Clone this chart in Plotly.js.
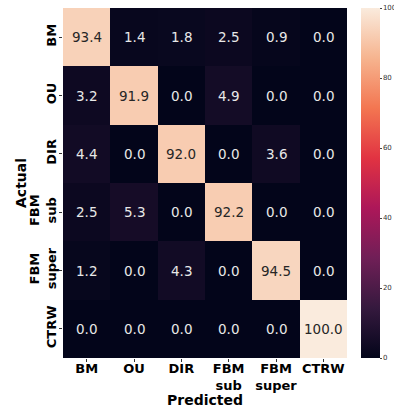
<!DOCTYPE html>
<html>
<head>
<meta charset="utf-8">
<script src="https://cdn.plot.ly/plotly-3.0.1.min.js"></script>
<style>html,body{margin:0;padding:0;background:#fff;}#chart{width:394px;height:411px;}</style>
</head>
<body>
<div id="chart"></div>
<script>
const predicted = ['BM', 'OU', 'DIR', 'FBM<br>sub', 'FBM<br>super', 'CTRW'];
const actual = ['BM', 'OU', 'DIR', 'FBM<br>sub', 'FBM<br>super', 'CTRW'];
const rowBM = [93.4, 1.4, 1.8, 2.5, 0.9, 0.0];
const rowOU = [3.2, 91.9, 0.0, 4.9, 0.0, 0.0];
const rowDIR = [4.4, 0.0, 92.0, 0.0, 3.6, 0.0];
const rowFBMsub = [2.5, 5.3, 0.0, 92.2, 0.0, 0.0];
const rowFBMsuper = [1.2, 0.0, 4.3, 0.0, 94.5, 0.0];
const rowCTRW = [0.0, 0.0, 0.0, 0.0, 0.0, 100.0];
const colorTicks = [0, 20, 40, 60, 80, 100];
const xTitle = 'Predicted';
const yTitle = 'Actual';

const z = [rowBM, rowOU, rowDIR, rowFBMsub, rowFBMsuper, rowCTRW];

const rocket = [
  [0.0, '#03051A'], [0.143, '#35193E'], [0.286, '#701F57'], [0.429, '#AD1759'],
  [0.571, '#E13342'], [0.714, '#F37651'], [0.857, '#F6B48F'], [1.0, '#FAEBDD']
];

const boldFont = {family: 'DejaVu Sans', size: 14, weight: 'bold', color: '#000'};

const annotations = [];
z.forEach((row, i) => row.forEach((v, j) => {
  annotations.push({
    x: predicted[j], y: actual[i], xref: 'x', yref: 'y',
    text: v.toFixed(1), showarrow: false,
    font: {family: 'DejaVu Sans', size: 13.5, color: v > 50 ? '#262626' : '#e8e8e8'}
  });
}));
annotations.push({
  x: 0.5, y: 0, xref: 'paper', yref: 'paper', xanchor: 'center', yanchor: 'middle',
  yshift: -42, text: xTitle, showarrow: false, font: boldFont
});
annotations.push({
  x: 0, y: 0.5, xref: 'paper', yref: 'paper', xanchor: 'center', yanchor: 'middle',
  xshift: -42, textangle: -90, text: yTitle, showarrow: false, font: boldFont
});

const trace = {
  type: 'heatmap', x: predicted, y: actual, z: z,
  zmin: 0, zmax: 100, colorscale: rocket, xgap: 0, ygap: 0,
  hoverinfo: 'skip',
  colorbar: {
    x: 1.0493, xanchor: 'left', y: 0, yanchor: 'bottom', len: 1, lenmode: 'fraction',
    thickness: 19, ypad: 0, xpad: 0, outlinewidth: 0,
    tickvals: colorTicks, ticks: 'outside', ticklen: 2, tickwidth: 1, tickcolor: '#444',
    tickfont: {family: 'DejaVu Sans', size: 7, color: '#333'}
  }
};

const layout = {
  width: 394, height: 411,
  margin: {l: 63, r: 47, t: 8, b: 53, autoexpand: false},
  paper_bgcolor: '#fff', plot_bgcolor: '#fff',
  font: {family: 'DejaVu Sans'},
  xaxis: {
    type: 'category', showgrid: false, zeroline: false, showline: false,
    ticks: 'outside', ticklen: 3, tickcolor: '#333', tickangle: 0, ticklabelstandoff: -5,
    tickfont: {family: 'DejaVu Sans', size: 13, weight: 'bold', color: '#000'},
    automargin: false
  },
  yaxis: {
    type: 'category', autorange: 'reversed', showgrid: false, zeroline: false, showline: false,
    ticks: 'outside', ticklen: 3, tickcolor: '#333', tickangle: -90, ticklabelstandoff: -2,
    tickfont: {family: 'DejaVu Sans', size: 13, weight: 'bold', color: '#000'},
    automargin: false
  },
  annotations: annotations,
  showlegend: false
};

Plotly.newPlot('chart', [trace], layout, {displayModeBar: false, staticPlot: true});
</script>
</body>
</html>
